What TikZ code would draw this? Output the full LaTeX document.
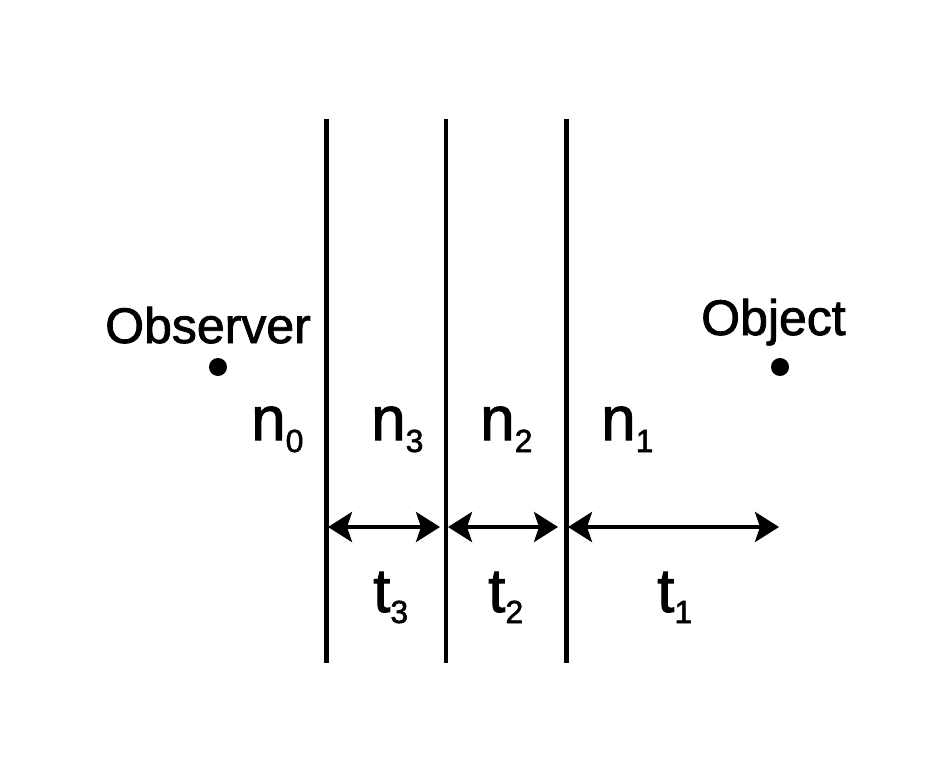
\documentclass[tikz,border=0pt]{standalone}
\usepackage{fontspec}
\setmainfont{Liberation Sans}[BoldFont=Liberation Sans,BoldFeatures={FakeBold=1.6}]
\usetikzlibrary{arrows.meta}
\newcommand{\bigf}{\fontsize{62}{70}\selectfont\bfseries}
\newcommand{\subf}{\fontsize{32}{36}\selectfont\bfseries}
\newcommand{\lblf}{\fontsize{50}{56}\selectfont\bfseries}
\newcommand{\sub}[2]{\raisebox{-#2pt}{\subf #1}}
\begin{document}
\begin{tikzpicture}[x=1pt,y=-1pt,
  wall/.style={line width=4.5pt},
  dim/.style={line width=4pt,{Stealth[length=24pt,width=30pt,inset=5pt]}-{Stealth[length=24pt,width=30pt,inset=5pt]}},
  lbl/.style={inner sep=0pt,anchor=base west,font=\bigf},
  word/.style={inner sep=0pt,anchor=base west,font=\lblf},
  dot/.style={circle,fill=black,inner sep=0pt,minimum size=18pt}]
\useasboundingbox (0,0) rectangle (937,768);
% walls
\coordinate (w1t) at (326.5,119); \coordinate (w1b) at (326.5,663);
\coordinate (w2t) at (446,119); \coordinate (w2b) at (446,663);
\coordinate (w3t) at (566.5,119); \coordinate (w3b) at (566.5,663);
\draw[wall] (w1t) -- (w1b);
\draw[wall] (w2t) -- (w2b);
\draw[wall] (w3t) -- (w3b);
% observer / object
\node[word] (obs) at (105,343) {Observer};
\node[dot] (obsdot) at (218,367) {};
\node[word] (obj) at (701,335) {Object};
\node[dot] (objdot) at (780,367) {};
% indices
\node[lbl] (n0) at (251,440) {n\sub{0}{12}};
\node[lbl] (n3) at (371,440) {n\sub{3}{12}};
\node[lbl] (n2) at (480,440) {n\sub{2}{12}};
\node[lbl] (n1) at (601,440) {n\sub{1}{12}};
% dimension arrows
\coordinate (a1) at (328,527); \coordinate (b1) at (440,527);
\coordinate (a2) at (448,527); \coordinate (b2) at (558,527);
\coordinate (a3) at (568,527); \coordinate (b3) at (779,527);
\draw[dim] (a1) -- (b1);
\draw[dim] (a2) -- (b2);
\draw[dim] (a3) -- (b3);
\node[lbl] (t3) at (373,612) {t\sub{3}{11}};
\node[lbl] (t2) at (488,612) {t\sub{2}{11}};
\node[lbl] (t1) at (657,612) {t\sub{1}{11}};
\end{tikzpicture}
\end{document}
